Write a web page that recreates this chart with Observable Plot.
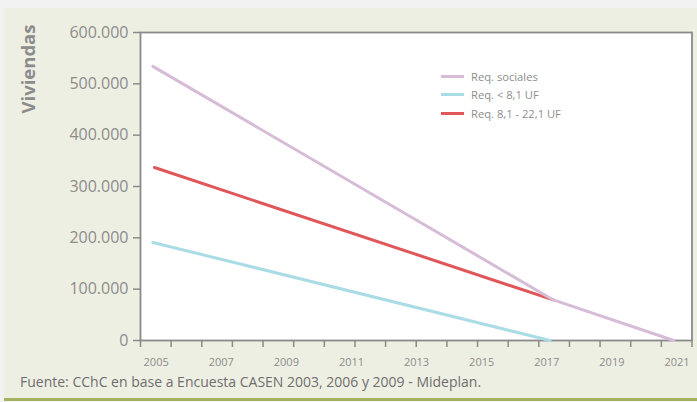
<!DOCTYPE html>
<html>
<head>
<meta charset="utf-8">
<script src="https://cdn.jsdelivr.net/npm/d3@7"></script>
<script src="https://cdn.jsdelivr.net/npm/@observablehq/plot@0.6"></script>
<style>
  html, body { margin: 0; padding: 0; background: #f2f2f2; width: 697px; height: 402px; overflow: hidden; }
  #panel { position: absolute; left: 4px; top: 8px; width: 693px; height: 390px; background: #eeefe3; border-bottom: 3px solid #a4b25e; }
  #chart { position: absolute; left: 0; top: 0; }
  #legend { position: absolute; left: 441px; top: 67px; font-family: "Open Sans", sans-serif; font-size: 11.2px; color: #8e8e8e; }
  #legend .row { height: 18.5px; display: flex; align-items: center; }
  #legend .sw { width: 23px; height: 3px; margin-right: 7px; }
  #caption { position: absolute; left: 20px; top: 372px; font-family: "Open Sans", sans-serif; font-size: 14px; color: #6e6e6e; white-space: nowrap; }
</style>
</head>
<body>
<div id="panel"></div>
<div id="chart"></div>
<div id="legend"></div>
<div id="caption">Fuente: CChC en base a Encuesta CASEN 2003, 2006 y 2009 - Mideplan.</div>
<script>
// Data
const seriesNames = ["Req. sociales", "Req. < 8,1 UF", "Req. 8,1 - 22,1 UF"];
const seriesColors = ["#d6bcd7", "#a9dce5", "#e0575a"];
const socialesX = [2004.9, 2017.2, 2020.9];
const socialesY = [534000, 79000, 0];
const bajoX = [2004.9, 2017.1];
const bajoY = [191000, 0];
const medioX = [2004.95, 2017.2];
const medioY = [337000, 79000];
const xLabels = [2005, 2007, 2009, 2011, 2013, 2015, 2017, 2019, 2021];
const yTicks = [0, 100000, 200000, 300000, 400000, 500000, 600000];

const xDomain = [2004.52, 2021.46];
const nTickIntervals = 18;
const xTickMarks = d3.range(nTickIntervals + 1).map(i => xDomain[0] + i * (xDomain[1] - xDomain[0]) / nTickIntervals);

const toPts = (xs, ys, name) => xs.map((x, i) => ({x, y: ys[i], name}));
const sociales = toPts(socialesX, socialesY, seriesNames[0]);
const bajo = toPts(bajoX, bajoY, seriesNames[1]);
const medio = toPts(medioX, medioY, seriesNames[2]);

const fmt = d => d === 0 ? "0" : d3.format(",")(d).replace(/,/g, ".");
const axisColor = "#8a8a8a";

const chart = Plot.plot({
  width: 697,
  height: 372,
  marginLeft: 140,
  marginRight: 5.5,
  marginTop: 32,
  marginBottom: 32,
  style: { background: "transparent", fontFamily: "Open Sans, sans-serif", overflow: "visible" },
  x: { domain: xDomain },
  y: { domain: [0, 600000] },
  marks: [
    Plot.frame({ fill: "white", stroke: axisColor, strokeWidth: 1.8 }),
    Plot.axisY({ ticks: yTicks, tickFormat: fmt, tickSize: 7, tickPadding: 5, fontSize: 16, color: "#8c8c8c", stroke: axisColor, strokeWidth: 1.5, label: null }),
    Plot.axisX({ ticks: xTickMarks, tickFormat: () => "", tickSize: 7, stroke: axisColor, strokeWidth: 1.5, label: null }),
    Plot.axisX({ ticks: xLabels, tickFormat: d => String(d), tickSize: 0, tickPadding: 18, fontSize: 11, color: "#8c8c8c", label: null }),
    Plot.text(["Viviendas"], { frameAnchor: "top-left", rotate: -90, textAnchor: "end", lineAnchor: "middle", dx: -111, dy: -8, fontSize: 18.5, fontWeight: "bold", fill: "#8c8c8c" }),
    Plot.line(bajo, { x: "x", y: "y", stroke: seriesColors[1], strokeWidth: 3 }),
    Plot.line(medio, { x: "x", y: "y", stroke: seriesColors[2], strokeWidth: 3 }),
    Plot.line(sociales, { x: "x", y: "y", stroke: seriesColors[0], strokeWidth: 3 })
  ]
});
document.getElementById("chart").appendChild(chart);

const legend = document.getElementById("legend");
seriesNames.forEach((n, i) => {
  const row = document.createElement("div");
  row.className = "row";
  const sw = document.createElement("span");
  sw.className = "sw";
  sw.style.background = seriesColors[i];
  const t = document.createElement("span");
  t.textContent = n;
  row.appendChild(sw); row.appendChild(t);
  legend.appendChild(row);
});
</script>
</body>
</html>
